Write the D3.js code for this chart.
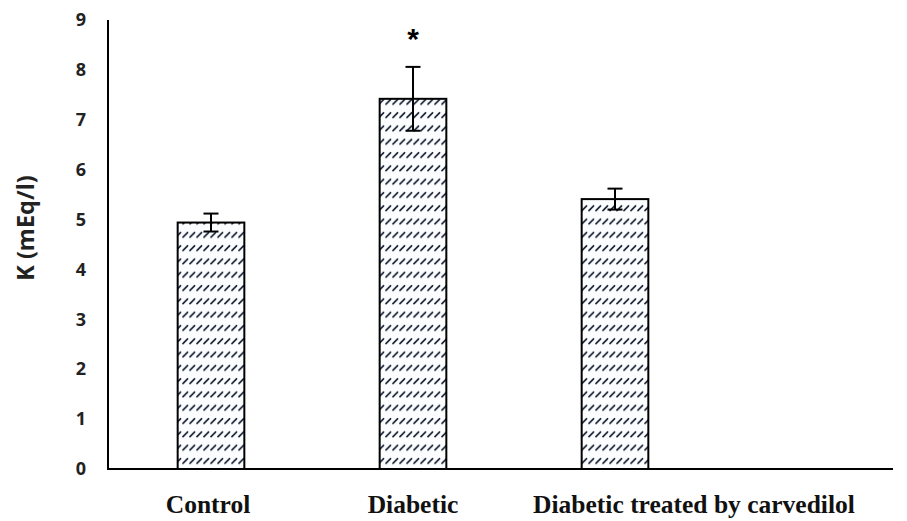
<!DOCTYPE html>
<html>
<head>
<meta charset="utf-8">
<script src="https://cdn.jsdelivr.net/npm/d3@7"></script>
<style>
  body { margin: 0; background: #fff; }
</style>
</head>
<body>
<svg id="chart"></svg>
<script>
// data
const categories = ["Control", "Diabetic", "Diabetic treated by carvedilol"]
const meanK = [4.94, 7.42, 5.41]
const errK = [0.18, 0.64, 0.21]
const marks = ["", "*", ""]
const yTicks = [0, 1, 2, 3, 4, 5, 6, 7, 8, 9]

const width = 907, height = 521
const svg = d3.select("#chart").attr("width", width).attr("height", height)

const x = d3.scaleBand()
  .domain(categories)
  .range([110, 716])
  .paddingInner(0.67)
  .paddingOuter(0.335)

const y = d3.scaleLinear().domain([0, 9]).range([469, 20])

// hatch fill
const pat = svg.append("defs").append("pattern")
  .attr("id", "hatch")
  .attr("patternUnits", "userSpaceOnUse")
  .attr("width", 7)
  .attr("height", 13.3)
pat.append("rect").attr("width", 7).attr("height", 13.3).attr("fill", "#fbfdff")
pat.append("line")
  .attr("x1", 1).attr("y1", 11).attr("x2", 5.5).attr("y2", 6.5)
  .attr("stroke", "#1c2437").attr("stroke-width", 1.8).attr("stroke-linecap", "round")

// bars
svg.append("g").selectAll("rect")
  .data(categories)
  .join("rect")
  .attr("x", d => x(d))
  .attr("y", (d, i) => y(meanK[i]))
  .attr("width", x.bandwidth())
  .attr("height", (d, i) => y(0) - y(meanK[i]))
  .attr("fill", "url(#hatch)")
  .attr("stroke", "#000")
  .attr("stroke-width", 2)

// error bars
const eb = svg.append("g").attr("stroke", "#000").attr("stroke-width", 2)
categories.forEach((c, i) => {
  const cx = x(c) + x.bandwidth() / 2
  const hi = y(meanK[i] + errK[i]), lo = y(meanK[i] - errK[i])
  eb.append("line").attr("x1", cx).attr("x2", cx).attr("y1", hi).attr("y2", lo)
  eb.append("line").attr("x1", cx - 7.5).attr("x2", cx + 7.5).attr("y1", hi).attr("y2", hi)
  eb.append("line").attr("x1", cx - 7.5).attr("x2", cx + 7.5).attr("y1", lo).attr("y2", lo)
})

// significance marks
svg.append("g").selectAll("text")
  .data(categories)
  .join("text")
  .attr("x", d => x(d) + x.bandwidth() / 2)
  .attr("y", 49)
  .attr("text-anchor", "middle")
  .attr("font-family", "Liberation Sans, Arial, sans-serif")
  .attr("font-weight", "bold")
  .attr("font-size", 30)
  .text((d, i) => marks[i])

// axes lines
svg.append("line")
  .attr("x1", 108).attr("x2", 108).attr("y1", y(9)).attr("y2", y(0))
  .attr("stroke", "#000").attr("stroke-width", 2)
svg.append("line")
  .attr("x1", 107).attr("x2", 893).attr("y1", y(0)).attr("y2", y(0))
  .attr("stroke", "#000").attr("stroke-width", 2)

// y tick labels
const yAxis = svg.append("g")
  .attr("transform", "translate(86,0)")
  .call(d3.axisLeft(y).tickValues(yTicks).tickSize(0).tickPadding(0))
yAxis.select(".domain").remove()
yAxis.selectAll("text")
  .attr("font-family", "Open Sans, DejaVu Sans, sans-serif")
  .attr("font-weight", "bold")
  .attr("font-size", 18)
  .attr("fill", "#222")

// category labels (the last one sits right of its bar in the reference)
const labelShift = [-3, 0, 79]
svg.append("g").selectAll("text")
  .data(categories)
  .join("text")
  .attr("x", (d, i) => x(d) + x.bandwidth() / 2 + labelShift[i])
  .attr("y", 513)
  .attr("text-anchor", "middle")
  .attr("font-family", "Liberation Serif, Times New Roman, serif")
  .attr("font-weight", "bold")
  .attr("font-size", 25.5)
  .attr("fill", "#111")
  .text(d => d)

// y title
svg.append("text")
  .attr("transform", "translate(34,228) rotate(-90)")
  .attr("text-anchor", "middle")
  .attr("font-family", "Open Sans, DejaVu Sans, sans-serif")
  .attr("font-weight", "bold")
  .attr("font-size", 23.5)
  .attr("fill", "#222")
  .text("K (mEq/l)")
</script>
</body>
</html>
